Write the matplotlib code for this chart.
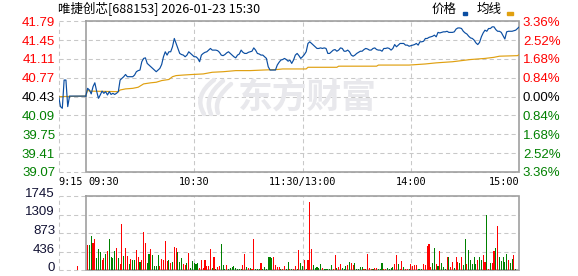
import numpy as np
import matplotlib.pyplot as plt
from matplotlib.patches import Rectangle, PathPatch
from matplotlib.path import Path
from matplotlib.transforms import blended_transform_factory

plt.rcParams['font.family'] = ['Liberation Sans', 'DejaVu Sans']

# ---- data ----
title = "唯捷创芯[688153] 2026-01-23 15:30"
pre_close = 40.43

# call auction 9:15-9:30 (minutes relative to 9:30)
auction_t = [-15, -14, -13, -12, -11, -10, -9, 0]
auction_p = [40.43, 40.25, 40.22, 40.73, 40.73, 40.25, 40.44, 40.44]
auction_vol_t = [-4.5]
auction_vol = [100]
auction_vol_dir = "R"

# one value per trading minute, 09:30 .. 15:00 (lunch break collapsed)
price = [
    40.44, 40.58, 40.55, 40.48, 40.61, 40.68, 40.53, 40.40, 40.46, 40.53,
    40.49, 40.52, 40.46, 40.52, 40.47, 40.49, 40.47, 40.49, 40.52, 40.73,
    40.76, 40.79, 40.83, 40.79, 40.79, 40.79, 40.79, 40.82, 40.88, 40.90,
    40.91, 41.06, 41.12, 41.13, 41.03, 41.00, 40.97, 40.94, 40.91, 40.88,
    40.91, 40.94, 41.01, 41.15, 41.24, 41.18, 41.24, 41.24, 41.33, 41.48,
    41.39, 41.30, 41.21, 41.19, 41.18, 41.15, 41.18, 41.24, 41.21, 41.18,
    41.15, 41.15, 41.12, 41.06, 41.18, 41.21, 41.23, 41.24, 41.27, 41.30,
    41.27, 41.27, 41.27, 41.26, 41.23, 41.18, 41.17, 41.19, 41.22, 41.24,
    41.21, 41.18, 41.15, 41.13, 41.18, 41.20, 41.27, 41.23, 41.21, 41.21,
    41.23, 41.24, 41.25, 41.31, 41.27, 41.21, 41.20, 41.18, 41.18, 41.15,
    41.12, 40.97, 40.91, 40.91, 40.91, 40.91, 41.00, 41.05, 41.09, 41.10,
    41.12, 41.10, 41.07, 41.09, 41.03, 41.09, 41.18, 41.21, 41.17, 41.12,
    41.15, 41.19, 41.24, 41.39, 41.42, 41.39, 41.36, 41.33, 41.30, 41.30,
    41.31, 41.30, 41.31, 41.30, 41.21, 41.21, 41.24, 41.27, 41.28, 41.25,
    41.27, 41.31, 41.30, 41.25, 41.25, 41.27, 41.24, 41.18, 41.16, 41.18,
    41.21, 41.23, 41.25, 41.25, 41.28, 41.30, 41.29, 41.27, 41.27, 41.30,
    41.31, 41.28, 41.27, 41.27, 41.25, 41.30, 41.30, 41.31, 41.30, 41.27,
    41.30, 41.37, 41.33, 41.36, 41.39, 41.39, 41.39, 41.36, 41.36, 41.34,
    41.35, 41.36, 41.37, 41.39, 41.36, 41.42, 41.42, 41.43, 41.48, 41.48,
    41.50, 41.51, 41.52, 41.54, 41.51, 41.59, 41.58, 41.59, 41.60, 41.60,
    41.61, 41.59, 41.59, 41.59, 41.60, 41.65, 41.67, 41.67, 41.66, 41.61,
    41.58, 41.56, 41.52, 41.49, 41.48, 41.45, 41.40, 41.37, 41.41, 41.51,
    41.58, 41.63, 41.61, 41.66, 41.66, 41.69, 41.69, 41.64, 41.61, 41.61,
    41.59, 41.53, 41.47, 41.60, 41.61, 41.61, 41.61, 41.62, 41.63, 41.66,
    41.69,
]

# average price line, key points (minute, price)
avg_t = [-15, 0, 1, 2, 18, 19, 22, 26, 29, 31, 32, 36, 39, 42, 46, 48, 50,
         54, 59, 65, 70, 76, 83, 91, 98, 106, 109, 113, 122, 123, 139, 140,
         161, 162, 179, 188, 194, 203, 208, 213, 221, 226, 229, 239, 240]
avg_p = [40.43, 40.44, 40.55, 40.53, 40.52, 40.55, 40.57, 40.58, 40.60,
         40.64, 40.66, 40.68, 40.69, 40.72, 40.74, 40.79, 40.81, 40.82,
         40.83, 40.84, 40.87, 40.88, 40.90, 40.90, 40.91, 40.92, 40.93,
         40.93, 40.93, 40.96, 40.96, 40.98, 40.98, 41.00, 41.00, 41.02,
         41.04, 41.06, 41.08, 41.10, 41.12, 41.14, 41.16, 41.17, 41.19]

# volume per minute (lots), direction R = up, G = down
vol = [
    0,
    590, 590, 800, 637, 731, 283, 495, 424, 236, 283,
    377, 448, 731, 307, 283, 448, 519, 283, 141, 1085,
    330, 519, 330, 141, 259, 236, 236, 472, 307, 189,
    236, 896, 637, 165, 377, 495, 354, 94, 94, 354,
    94, 259, 236, 684, 212, 236, 165, 189, 542, 519,
    424, 189, 283, 141, 118, 165, 401, 47, 212, 165,
    141, 165, 47, 236, 47, 236, 94, 94, 495, 47,
    307, 24, 71, 94, 613, 118, 24, 118, 24, 47,
    71, 94, 47, 24, 24, 24, 118, 377, 71, 47,
    47, 24, 731, 24, 24, 24, 165, 24, 71, 24,
    307, 307, 283, 307, 118, 71, 71, 24, 24, 94,
    24, 189, 24, 24, 24, 94, 24, 472, 165, 94,
    236, 24, 236, 1603, 495, 118, 47, 71, 47, 141,
    47, 24, 24, 24, 24, 118, 24, 354, 47, 71,
    141, 47, 24, 94, 118, 189, 165, 118, 165, 24,
    24, 71, 71, 24, 24, 377, 47, 24, 24, 47,
    47, 24, 24, 165, 24, 24, 47, 24, 47, 71,
    141, 354, 141, 24, 212, 71, 24, 24, 24, 141,
    94, 118, 118, 24, 24, 24, 141, 118, 566, 613,
    71, 165, 519, 141, 94, 448, 165, 71, 24, 307,
    307, 71, 189, 47, 307, 189, 165, 307, 118, 731,
    141, 472, 236, 141, 307, 141, 236, 307, 236, 354,
    189, 1297, 24, 165, 165, 448, 519, 1037, 307, 212,
    307, 189, 377, 236, 165, 259, 354, 24, 0, 731,
]
vol_dir = ("R"
           "RGGRRGGGRR" "GRGGGGRGRR" "GRRGRGGRRG" "RRRGGRGGGG"
           "RRRRRGRGRR" "GGGRRGRGGG" "GGRRRRRRRG" "RGRRGGGRGG"
           "GGGGGGRRGR" "GRRGGGRGGG" "GGGRRRRGRR" "GGRGRRGRGG"
           "RGRRRGGGGG" "RGGGGGRRGR" "RGGGRGRRGG" "GGGRGRRRGR"
           "RGGGRRGGGG" "RRGRRGRRGR" "RRRGGGRRRR" "RGGRGRGGGR"
           "GRRGRRGRGG" "RGGGGGRGGR" "RGRGRRGRGG" "GGGRGGRGRR")

price_ticks = [41.79, 41.45, 41.11, 40.77, 40.43, 40.09, 39.75, 39.41, 39.07]
pct_labels = ["3.36%", "2.52%", "1.68%", "0.84%", "0.00%",
              "0.84%", "1.68%", "2.52%", "3.36%"]
vol_ticks = [0, 436, 873, 1309, 1745]
time_ticks = [-15, 0, 60, 120, 180, 240]
time_labels = ["9:15", "09:30", "10:30", "11:30/13:00", "14:00", "15:00"]
time_ha = ["left", "left", "center", "center", "center", "right"]

# ---- style ----
UP = "#ff0000"
DOWN = "#008000"
PRICE_C = "#0b4ea2"
AVG_C = "#e0a010"
GRID_C = "#c8c8c8"
FRAME_C = "#a0a0a0"
WM_C = "#e8e8ec"
W, H = 578, 276

fig = plt.figure(figsize=(W / 100, H / 100), dpi=100)
ax = fig.add_axes([58.7 / W, 1 - 172 / H, 460.6 / W, 150.7 / H])
axv = fig.add_axes([58.7 / W, 1 - 270.3 / H, 460.6 / W, 74.3 / H])

t_main = np.arange(len(price))
t0, t1 = time_ticks[0], time_ticks[-1]
pmin, pmax = price_ticks[-1], price_ticks[0]


def price_color(v):
    if abs(v - pre_close) < 1e-6:
        return "#000000"
    return UP if v > pre_close else DOWN


for a, yt, (lo, hi) in [(ax, price_ticks, (pmin, pmax)),
                        (axv, vol_ticks, (0, vol_ticks[-1]))]:
    a.set_xlim(t0, t1)
    a.set_ylim(lo, hi)
    for s in a.spines.values():
        s.set_visible(False)
    a.set_xticks([])
    a.set_yticks(yt)
    a.tick_params(axis="y", length=0, pad=2.6, labelsize=9.5)
    # dashed grid
    for y in yt:
        a.plot([t0, t1], [y, y], color=GRID_C, lw=0.75, ls=(0, (4, 3)),
               zorder=0.5, clip_on=False)
    for x in time_ticks[:-1]:
        if x == 0:
            continue
        a.plot([x, x], [lo, hi], color=GRID_C, lw=0.75, ls=(0, (4, 3)),
               zorder=0.5, clip_on=False)
    # solid frame from 09:30 to 15:00
    a.plot([0, t1, t1, 0, 0], [hi, hi, lo, lo, hi], color=FRAME_C,
           lw=1.2, zorder=1, clip_on=False, solid_joinstyle="miter")

# watermark: swoosh logo + text
def px(x, y):
    return (x / W, 1 - y / H)


for pts in [[(204, 114), (193, 96), (214, 80)],
            [(211, 114), (203, 97), (223, 81)],
            [(218, 113), (213, 99), (231, 84)]]:
    path = Path([px(*p) for p in pts], [Path.MOVETO, Path.CURVE3, Path.CURVE3])
    fig.patches.append(PathPatch(path, transform=fig.transFigure,
                                 fill=False, edgecolor=WM_C, lw=3.2,
                                 capstyle="round", zorder=0))
fig.text(307 / W, 1 - 97 / H, "东方财富", family=["Noto Sans CJK SC"],
         fontsize=25, fontweight="bold", color=WM_C, ha="center",
         va="center", zorder=0)

# price + average lines
ax.plot(avg_t, avg_p, color=AVG_C, lw=0.85, zorder=2)
ax.plot(auction_t, auction_p, color=PRICE_C, lw=0.85, zorder=3)
ax.plot(t_main, price, color=PRICE_C, lw=0.85, zorder=3)

# left price labels
ax.set_yticklabels([f"{v:.2f}" for v in price_ticks])
for lbl, v in zip(ax.get_yticklabels(), price_ticks):
    lbl.set_color(price_color(v))

# right percent labels
axr = ax.twinx()
axr.set_ylim(pmin, pmax)
axr.set_yticks(price_ticks)
axr.set_yticklabels(pct_labels)
axr.tick_params(axis="y", length=0, pad=2.6, labelsize=9.5)
for s in axr.spines.values():
    s.set_visible(False)
for lbl, v in zip(axr.get_yticklabels(), price_ticks):
    lbl.set_color(price_color(v))

# time labels
tr = blended_transform_factory(ax.transData, fig.transFigure)
for x, s, ha in zip(time_ticks, time_labels, time_ha):
    ax.text(x + (1.5 if s == "09:30" else 0), 1 - 181.7 / H, s,
            transform=tr, ha=ha, va="center", fontsize=7.4,
            family=["DejaVu Sans Mono"], clip_on=False)

# volume bars
bar_c = [UP if d == "R" else DOWN for d in vol_dir]
axv.bar(t_main, vol, width=0.6, color=bar_c, zorder=2)
axv.bar(auction_vol_t, auction_vol, width=0.6,
        color=[UP if d == "R" else DOWN for d in auction_vol_dir], zorder=2)
# volume labels drawn as text so the bottom "0" stays inside the figure
axv.set_yticklabels([])
vtr = blended_transform_factory(fig.transFigure, axv.transData)
for v in vol_ticks:
    axv.text(55 / W, v + 1745 * 2.2 / 74.3, str(v), transform=vtr,
             ha="right", va="center", fontsize=9.5, color="#111133",
             clip_on=False)

# title and legend
fig.text(58 / W, 1 - 9 / H, title, family=["Noto Sans CJK SC"],
         fontsize=9, ha="left", va="center")
fig.text(431.7 / W, 1 - 9 / H, "价格", family=["Noto Sans CJK SC"],
         fontsize=9, ha="left", va="center")
fig.text(476.7 / W, 1 - 9 / H, "均线", family=["Noto Sans CJK SC"],
         fontsize=9, ha="left", va="center")
fig.patches.append(Rectangle((462.7 / W, 1 - 15 / H), 4 / W, 2.7 / H,
                             transform=fig.transFigure, color=PRICE_C))
fig.patches.append(Rectangle((507.3 / W, 1 - 15 / H), 5.4 / W, 2.7 / H,
                             transform=fig.transFigure, color=AVG_C))

fig.savefig("out.png", dpi=100)
